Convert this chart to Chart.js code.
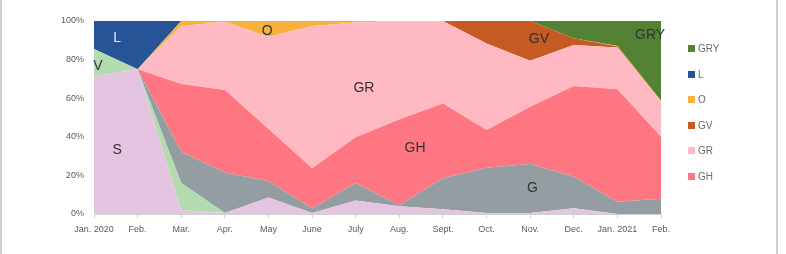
<!DOCTYPE html>
<html>
<head>
<meta charset="utf-8">
<script src="https://cdn.jsdelivr.net/npm/chart.js@4/dist/chart.umd.min.js"></script>
<style>
  html, body { margin: 0; padding: 0; background: #fff; }
  #wrap { position: relative; width: 786px; height: 254px; overflow: hidden; }
  #c { position: absolute; left: 0; top: 0; }
  .frame { position: absolute; top: 0; width: 2px; height: 254px; background: #cfcfcf; }
  #legend { position: absolute; left: 688px; top: 43px; font-family: "Liberation Sans", Arial, sans-serif; font-size: 10px; color: #6b6b6b; }
  #legend .item { height: 25.6px; display: flex; align-items: flex-start; }
  #legend .box { width: 7px; height: 7px; margin-top: 2px; margin-right: 3px; }
</style>
</head>
<body>
<div id="wrap">
  <canvas id="c" width="786" height="254"></canvas>
  <div class="frame" style="left:0px"></div>
  <div class="frame" style="left:776px"></div>
  <div id="legend"></div>
</div>
<script>
// ---- data ----
const categories = ["Jan. 2020", "Feb.", "Mar.", "Apr.", "May", "June", "July", "Aug.", "Sept.", "Oct.", "Nov.", "Dec.", "Jan. 2021", "Feb."];
const S   = [71.5, 75, 2,    0.5, 8.5, 0.5, 7,    4,    2.5,  0.5,  0.5,  3,    0,    0];
const V   = [14,   0,  14,   0,   0,   0,   0,    0,    0,    0,    0,    0,    0,    0];
const G   = [0,    0,  16.3, 21,  8.5, 2.5, 9,    0.5,  16,   23.5, 25.4, 16.3, 6.4,  7.9];
const GH  = [0,    0,  35.1, 42.8,27,  20.7,23.8, 44.4, 38.8, 19.5, 29.7, 47,   58.2, 32.1];
const GR  = [0,    0,  30,   35.3,47.9,73.7,59.4, 51.1, 42.7, 44.9, 23.8, 21.3, 21.7, 18.2];
const GV  = [0,    0,  0,    0,   0,   0,   0,    0,    0,    11.6, 20.6, 3.4,  0.5,  0];
const O   = [0,    0,  2.6,  0.5, 8.1, 2.6, 0.8,  0,    0,    0,    0,    0,    0.2,  0.5];
const L   = [14.5, 25, 0,    0,   0,   0,   0,    0,    0,    0,    0,    0,    0,    0];
const GRY = [0,    0,  0,    0,   0,   0,   0,    0,    0,    0,    0,    9,    13.2, 41.3];
const yTicks = [0, 20, 40, 60, 80, 100];

// series stacked from bottom to top
const seriesNames  = ["S", "V", "G", "GH", "GR", "GV", "O", "L", "GRY"];
const seriesValues = [S, V, G, GH, GR, GV, O, L, GRY];
const seriesColors = ["#E5C4E1", "#B2DCAF", "#949EA2", "#FF7683", "#FFB9C2", "#C55A22", "#F8B13E", "#275497", "#548235"];
const legendNames  = ["GRY", "L", "O", "GV", "GR", "GH"];

// in-plot area labels (category index, percent)
const areaLabels = [
  { text: "L",   x: 0.53,  y: 91.2, color: "#dfe8f6" },
  { text: "V",   x: 0.09,  y: 76.7, color: "#333" },
  { text: "S",   x: 0.53,  y: 33.2, color: "#333" },
  { text: "O",   x: 3.97,  y: 94.8, color: "#333" },
  { text: "GR",  x: 6.19,  y: 65.3, color: "#333" },
  { text: "GH",  x: 7.36,  y: 34.2, color: "#333" },
  { text: "G",   x: 10.05, y: 13.5, color: "#333" },
  { text: "GV",  x: 10.2,  y: 90.7, color: "#333" },
  { text: "GRY", x: 12.75, y: 92.7, color: "#333" }
];

const datasets = seriesNames.map((n, i) => ({
  label: n,
  data: seriesValues[i],
  backgroundColor: seriesColors[i],
  borderColor: seriesColors[i],
  borderWidth: 0,
  pointRadius: 0,
  pointHoverRadius: 0,
  tension: 0,
  fill: i === 0 ? 'origin' : '-1'
}));

const labelPlugin = {
  id: 'areaLabels',
  afterDatasetsDraw(chart) {
    const ctx = chart.ctx;
    const xs = chart.scales.x, ys = chart.scales.y;
    ctx.save();
    ctx.font = '14px "Liberation Sans", Arial, sans-serif';
    ctx.textAlign = 'center';
    ctx.textBaseline = 'middle';
    areaLabels.forEach(l => {
      ctx.fillStyle = l.color;
      ctx.fillText(l.text, xs.getPixelForValue(l.x), ys.getPixelForValue(l.y));
    });
    ctx.restore();
  }
};

new Chart(document.getElementById('c'), {
  type: 'line',
  data: { labels: categories, datasets },
  options: {
    responsive: false,
    animation: false,
    layout: { padding: { top: 21, right: 125, left: 0, bottom: 0 } },
    plugins: { legend: { display: false }, tooltip: { enabled: false } },
    elements: { line: { borderWidth: 0 } },
    scales: {
      x: {
        type: 'category',
        offset: false,
        grid: { drawOnChartArea: false, drawTicks: true, tickLength: 4, color: '#d0d0d0' },
        border: { color: '#d0d0d0' },
        ticks: { color: '#5a5a5a', font: { size: 9, family: '"Liberation Sans", Arial, sans-serif' }, padding: 6, maxRotation: 0, autoSkip: false },
        afterFit(a) { a.height = 40; }
      },
      y: {
        stacked: true,
        min: 0, max: 100,
        afterBuildTicks(a) { a.ticks = yTicks.map(v => ({ value: v })); },
        grid: { display: false, drawTicks: false },
        border: { display: false },
        ticks: { color: '#5a5a5a', font: { size: 9, family: '"Liberation Sans", Arial, sans-serif' }, padding: 10, callback: v => v + '%' },
        afterFit(a) { a.width = 94; }
      }
    }
  },
  plugins: [labelPlugin]
});

// HTML legend
const lg = document.getElementById('legend');
legendNames.forEach(n => {
  const i = seriesNames.indexOf(n);
  const d = document.createElement('div');
  d.className = 'item';
  d.innerHTML = '<span class="box" style="background:' + seriesColors[i] + '"></span><span>' + n + '</span>';
  lg.appendChild(d);
});
</script>
</body>
</html>
